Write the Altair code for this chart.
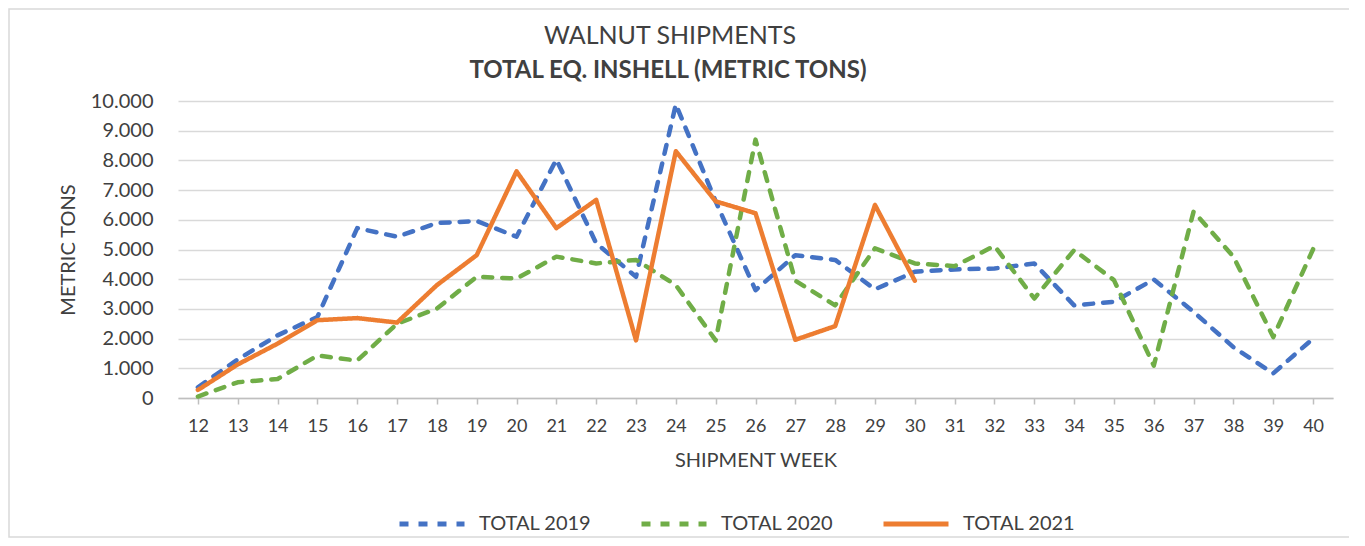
import altair as alt
import pandas as pd

weeks = list(range(12, 41))
total_2019 = [360, 1300, 2110, 2730, 5720, 5430, 5890, 5960, 5430, 8030, 5210, 4080, 9890, 6620,
              3630, 4810, 4650, 3660, 4250, 4330, 4360, 4530, 3120, 3240, 3990, 2900, 1710, 830, 2000]
total_2020 = [50, 530, 640, 1430, 1260, 2500, 3010, 4080, 4020, 4760, 4530, 4650, 3800, 1940,
              8700, 3950, 3120, 5040, 4530, 4440, 5120, 3350, 4980, 3970, 1090, 6280, 4760, 2050, 5010]
total_2021 = [270, 1130, 1830, 2620, 2690, 2540, 3800, 4810, 7630, 5720, 6670, 1940, 8310, 6620,
              6220, 1960, 2420, 6500, 3950]
series_names = ["TOTAL 2019", "TOTAL 2020", "TOTAL 2021"]
colors = ["#4472C4", "#70AD47", "#ED7D31"]
dashes = [[9, 10], [9, 10], [1, 0]]
y_ticks = list(range(0, 10001, 1000))
title_text = "WALNUT SHIPMENTS"
subtitle_text = "TOTAL EQ. INSHELL (METRIC TONS)"

rows = []
for name, vals in zip(series_names, [total_2019, total_2020, total_2021]):
    for w, v in zip(weeks, vals):
        rows.append({"week": w, "tons": v, "series": name})
df = pd.DataFrame(rows)
one = pd.DataFrame({"a": [0]})

FONT = "Lato"
TEXT = "#404040"

legend = alt.Legend(
    title=None, orient="none", direction="horizontal", legendX=219, legendY=388,
    symbolType="stroke", symbolSize=4225, symbolStrokeWidth=5,
    labelFontSize=20, labelColor=TEXT, labelFont=FONT, columnPadding=39, labelOffset=12,
    labelLimit=300,
)

lines = alt.Chart(df).mark_line(strokeWidth=4.5, strokeCap="round", strokeJoin="round").encode(
    x=alt.X("week:Q", scale=alt.Scale(domain=[11.5, 40.5], nice=False, zero=False),
            axis=alt.Axis(values=weeks, format="d", title="SHIPMENT WEEK", grid=False,
                          domainColor="#bfbfbf", domainWidth=1.5, tickColor="#bfbfbf",
                          tickSize=6, tickWidth=1.5, labelFontSize=18, labelPadding=13,
                          titleFontSize=20, titlePadding=15, labelColor=TEXT, titleColor=TEXT,
                          titleFontWeight="normal", labelFont=FONT, titleFont=FONT)),
    y=alt.Y("tons:Q", scale=alt.Scale(domain=[0, 10000], nice=False),
            axis=alt.Axis(values=y_ticks, labelExpr="replace(format(datum.value, ','), ',', '.')",
                          title="METRIC TONS", domain=False, ticks=False, gridColor="#d9d9d9",
                          gridWidth=1.5, labelFontSize=20, labelPadding=25, titleFontSize=20,
                          titlePadding=12, labelColor=TEXT, titleColor=TEXT,
                          titleFontWeight="normal", labelFont=FONT, titleFont=FONT)),
    color=alt.Color("series:N", scale=alt.Scale(domain=series_names, range=colors), legend=legend),
    strokeDash=alt.StrokeDash("series:N", scale=alt.Scale(domain=series_names, range=dashes),
                              legend=legend),
)

border = alt.Chart(one).mark_rect(
    filled=False, stroke="#d9d9d9", strokeWidth=1.5
).encode(x=alt.value(-169), x2=alt.value(1176), y=alt.value(-92), y2=alt.value(436))

title = alt.Chart(one).mark_text(
    text=title_text, font=FONT, fontSize=25, color=TEXT, baseline="middle", align="center"
).encode(x=alt.value(492), y=alt.value(-65))

subtitle = alt.Chart(one).mark_text(
    text=subtitle_text, font=FONT, fontSize=24, fontWeight="bold", color=TEXT,
    baseline="middle", align="center"
).encode(x=alt.value(490), y=alt.value(-30))

chart = alt.layer(border, title, subtitle, lines).properties(
    width=1155, height=297,
    autosize=alt.AutoSizeParams(type="none"),
    padding={"left": 170, "top": 93, "right": 16, "bottom": 140},
).configure_view(stroke=None)

chart.save("out.html", embed_options={"renderer": "svg", "actions": False})
